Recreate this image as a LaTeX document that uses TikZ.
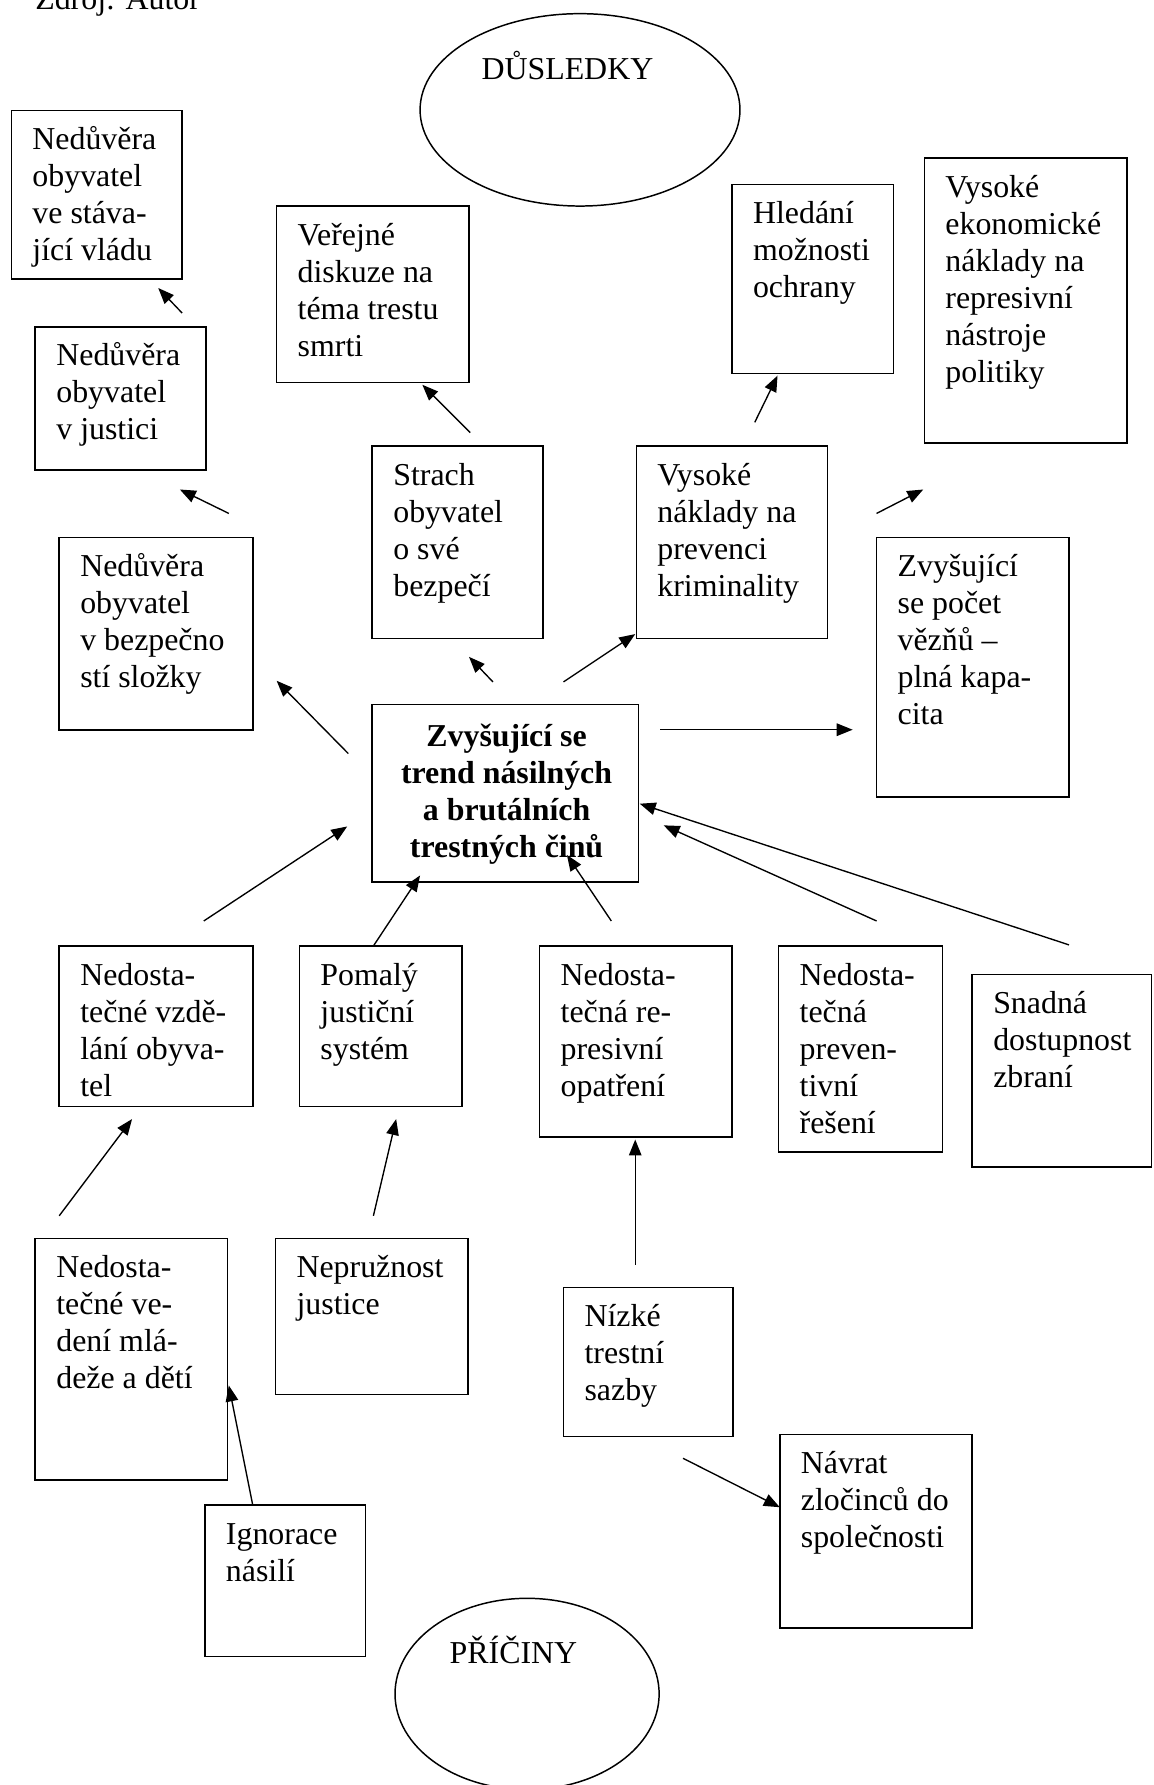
\documentclass[tikz,border=0pt]{standalone}
\usepackage{fontspec}
\setmainfont{Liberation Serif}
\usetikzlibrary{arrows.meta,shapes.geometric}
\newcommand\tbfont{\fontsize{28}{32.5}\selectfont}
\tikzset{
  bx/.style={draw, line width=1.4pt, inner sep=0pt, outer sep=0pt, rectangle},
  txt/.style={inner sep=0pt, outer sep=0pt, font=\tbfont},
  oval/.style={draw, line width=1.3pt, ellipse, inner sep=0pt},
  arr/.style={line width=1.2pt, -{Triangle[length=14pt,width=11pt]}},
}
% name, x, y, width, height, text
\newcommand\tbox[6]{%
  \node[bx, anchor=north west, minimum width=#4, minimum height=#5] (#1) at (#2,#3) {};
  \node[txt, anchor=base west] (#1t) at ([xshift=18.5pt,yshift=-34.5pt]#1.north west)
    {\begin{tabular}[t]{@{}l@{}}#6\end{tabular}};}
\begin{document}
\begin{tikzpicture}[x=1pt,y=-1pt]
\useasboundingbox (0,0) rectangle (1013,1568);
\clip (0,0) rectangle (1013,1568);

\node[txt, anchor=base west] (src) at (31,8) {Zdroj: Autor};

% ellipses
\node[oval, minimum width=281, minimum height=169] (dus) at (509.5,96.5) {};
\node[txt, anchor=base west] (dust) at (423,69.5) {DŮSLEDKY};
\node[oval, minimum width=232, minimum height=168] (pri) at (463,1488) {};
\node[txt, anchor=base west] (prit) at (395,1461) {PŘÍČINY};

% boxes
\tbox{A}{10}{97}{150}{148}{Nedůvěra\\obyvatel\\ve stáva-\\jící vládu}
\tbox{B}{243}{181}{169}{155}{Veřejné\\diskuze na\\téma trestu\\smrti}
\tbox{C}{643}{162}{142}{166}{Hledání\\možnosti\\ochrany}
\tbox{D}{812}{139}{178}{250}{Vysoké\\ekonomické\\náklady na\\represivní\\nástroje\\politiky}
\tbox{E}{31}{287}{150}{126}{Nedůvěra\\obyvatel\\v justici}
\tbox{F}{327}{392}{150}{169}{Strach\\obyvatel\\o své\\bezpečí}
\tbox{G}{559}{392}{168}{169}{Vysoké\\náklady na\\prevenci\\kriminality}
\tbox{H}{52}{472}{170}{169}{Nedůvěra\\obyvatel\\v bezpečno\\stí složky}
\tbox{I}{770}{472}{169}{228}{Zvyšující\\se počet\\vězňů –\\plná kapa-\\cita}
\tbox{K}{52}{831}{170}{141}{Nedosta-\\tečné vzdě-\\lání obyva-\\tel}
\tbox{L}{263}{831}{143}{141}{Pomalý\\justiční\\systém}
\tbox{M}{474}{831}{169}{168}{Nedosta-\\tečná re-\\presivní\\opatření}
\tbox{N}{684}{831}{144}{181}{Nedosta-\\tečná\\preven-\\tivní\\řešení}
\tbox{O}{854}{856}{157.5}{169}{Snadná\\dostupnost\\zbraní}
\tbox{P}{31}{1088}{169}{212}{Nedosta-\\tečné ve-\\dení mlá-\\deže a dětí}
\tbox{Q}{242}{1088}{169}{137}{Nepružnost\\justice}
\tbox{R}{495}{1131}{149}{131}{Nízké\\trestní\\sazby}
\tbox{S}{685}{1260}{169}{170}{Návrat\\zločinců do\\společnosti}
\tbox{T}{180}{1322}{141}{133}{Ignorace\\násilí}

% central box
\node[bx, anchor=north west, minimum width=234, minimum height=156] (J) at (327,619) {};
\node[txt, anchor=base, font=\tbfont\bfseries] (Jt) at (445,655.5)
  {\begin{tabular}[t]{@{}c@{}}Zvyšující se\\trend násilných\\a brutálních\\trestných činů\end{tabular}};

% arrow end points
\coordinate (a1s) at (160,275);  \coordinate (a1e) at (139,253);
\coordinate (a2s) at (201,451);  \coordinate (a2e) at (158,430);
\coordinate (a3s) at (413,380);  \coordinate (a3e) at (371,338);
\coordinate (a4s) at (663,371);  \coordinate (a4e) at (683,330);
\coordinate (a5s) at (770,451);  \coordinate (a5e) at (811,430);
\coordinate (a6s) at (306,662);  \coordinate (a6e) at (243,598);
\coordinate (a7s) at (433,599);  \coordinate (a7e) at (412,577);
\coordinate (a8s) at (495,599);  \coordinate (a8e) at (558,557);
\coordinate (a9s) at (580,641);  \coordinate (a9e) at (749,641);
\coordinate (a10s) at (179,809); \coordinate (a10e) at (305,726);
\coordinate (a11s) at (328,831); \coordinate (a11e) at (369,769);
\coordinate (a12s) at (537,809); \coordinate (a12e) at (498,751);
\coordinate (a13s) at (770,809); \coordinate (a13e) at (583,725);
\coordinate (a14s) at (939,830); \coordinate (a14e) at (562,706);
\coordinate (a15s) at (52,1068); \coordinate (a15e) at (116,983);
\coordinate (a16s) at (328,1068); \coordinate (a16e) at (348,983);
\coordinate (a17s) at (558,1111); \coordinate (a17e) at (558,1001);
\coordinate (a18s) at (222,1322); \coordinate (a18e) at (201,1217);
\coordinate (a19s) at (600,1281); \coordinate (a19e) at (685,1324);

\foreach \i in {1,...,19} \draw[arr] (a\i s) -- (a\i e);
\end{tikzpicture}
\end{document}
